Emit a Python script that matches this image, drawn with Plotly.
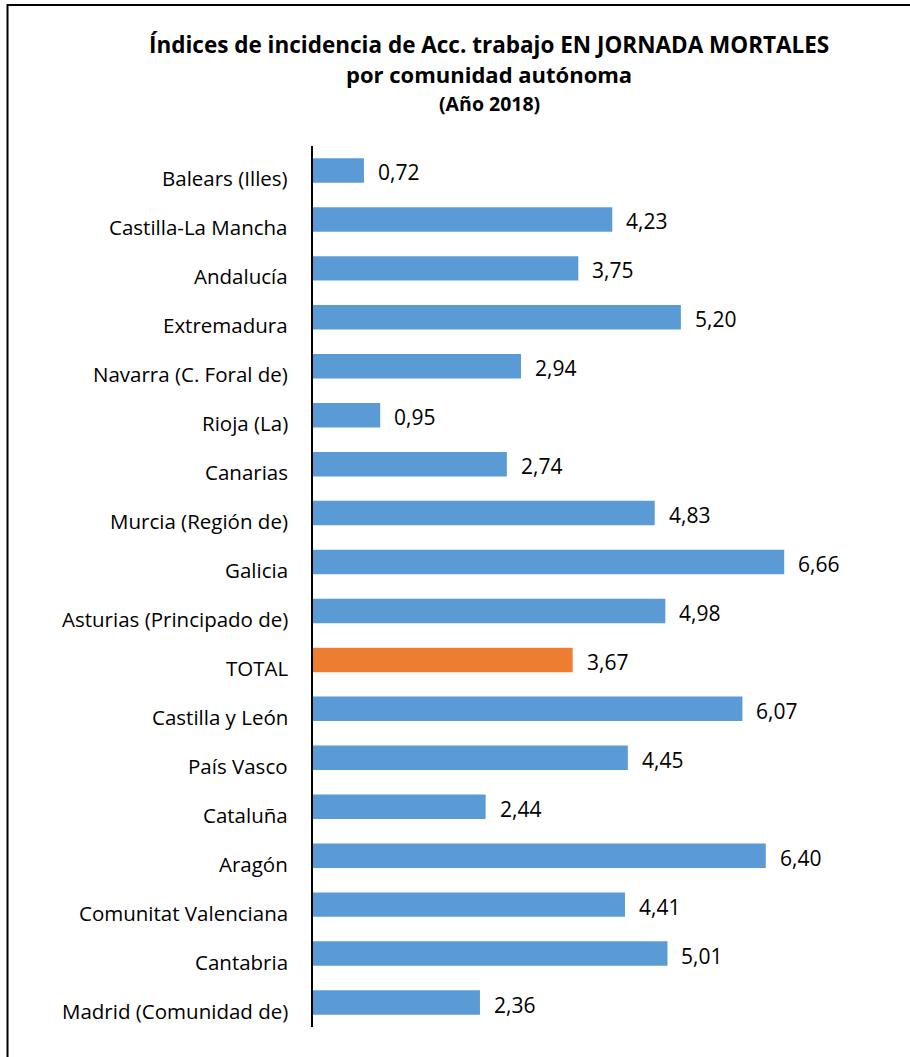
import plotly.graph_objects as go

categories = [
    "Balears (Illes)", "Castilla-La Mancha", "Andalucía", "Extremadura",
    "Navarra (C. Foral de)", "Rioja (La)", "Canarias", "Murcia (Región de)",
    "Galicia", "Asturias (Principado de)", "TOTAL", "Castilla y León",
    "País Vasco", "Cataluña", "Aragón", "Comunitat Valenciana", "Cantabria",
    "Madrid (Comunidad de)",
]
values = [0.72, 4.23, 3.75, 5.20, 2.94, 0.95, 2.74, 4.83, 6.66, 4.98, 3.67,
          6.07, 4.45, 2.44, 6.40, 4.41, 5.01, 2.36]

BLUE = "#5B9BD5"
ORANGE = "#ED7D31"
colors = [ORANGE if c == "TOTAL" else BLUE for c in categories]
FONT = "Open Sans"

W, H = 910, 1057
ML, MR, MT, MB = 313, 31, 146, 30
pw = W - ML - MR
ph = H - MT - MB


def px_x(p):
    return (p - ML) / pw


def px_y(p):
    return 1 - (p - MT) / ph


fig = go.Figure()
fig.add_trace(go.Bar(
    x=values, y=categories, orientation="h",
    marker=dict(color=colors, line=dict(width=0)),
    hoverinfo="x+y",
))

# value labels
for c, v in zip(categories, values):
    fig.add_annotation(
        x=v, y=c, xref="x", yref="y",
        text=f"{v:.2f}".replace(".", ","),
        showarrow=False, xanchor="left", xshift=12, yshift=-2,
        font=dict(family=FONT, size=21, color="#000000"),
    )

# category labels (sit slightly below bar centre, as in the original)
for c in categories:
    fig.add_annotation(
        x=0, y=c, xref="x", yref="y",
        text=c, showarrow=False, xanchor="right", xshift=-23, yshift=-8,
        font=dict(family=FONT, size=20.5, color="#000000"),
    )

fig.update_layout(
    width=W, height=H,
    margin=dict(l=ML, r=MR, t=MT, b=MB),
    paper_bgcolor="white", plot_bgcolor="white",
    showlegend=False,
    bargap=0.5,
    separators=",.",
    font=dict(family=FONT, size=20.5, color="#000000"),
    xaxis=dict(range=[0, 8], visible=False, showgrid=False, zeroline=False),
    yaxis=dict(
        autorange="reversed", showgrid=False, zeroline=False,
        showline=True, linecolor="#000000", linewidth=2,
        ticks="", showticklabels=False,
    ),
)

title_lines = [
    ("Índices de incidencia de Acc. trabajo EN JORNADA MORTALES", 22.5, 44),
    ("por comunidad autónoma", 22, 74),
    ("(Año 2018)", 19.5, 104),
]
for txt, sz, ypx in title_lines:
    fig.add_annotation(
        x=px_x(489), y=px_y(ypx),
        xref="paper", yref="paper", text=f"<b>{txt}</b>",
        showarrow=False, xanchor="center", yanchor="middle",
        font=dict(family=FONT, size=sz, color="#000000"),
    )

# outer frame fragments (top and left edges)
fig.add_shape(type="line", xref="paper", yref="paper",
              x0=px_x(7), x1=px_x(912), y0=px_y(5), y1=px_y(5),
              line=dict(color="#000000", width=2))
fig.add_shape(type="line", xref="paper", yref="paper",
              x0=px_x(7.5), x1=px_x(7.5), y0=px_y(4), y1=px_y(1060),
              line=dict(color="#000000", width=2))

fig.write_html("out.html", config={"displayModeBar": False},
               post_script="document.body.style.margin='0';")
